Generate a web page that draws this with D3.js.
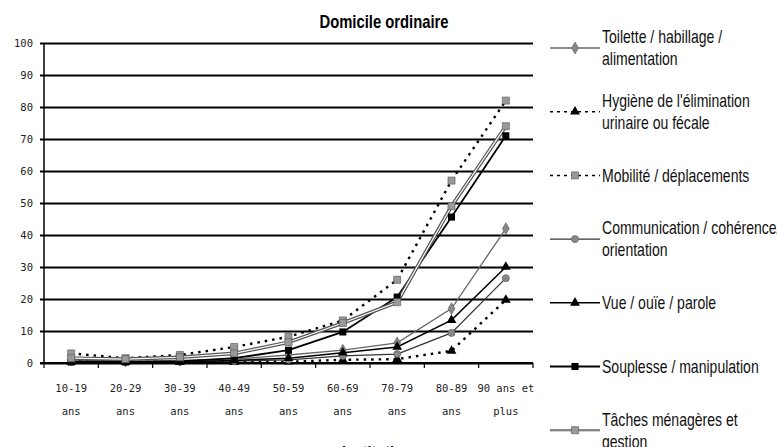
<!DOCTYPE html>
<html lang="fr">
  <head>
    <meta charset="utf-8">
    <title>Domicile ordinaire</title>
    <script src="https://cdnjs.cloudflare.com/ajax/libs/d3/7.8.5/d3.min.js"></script>
    <style>
      body { margin: 0; background: #fff; }
      svg { display: block; }
      .tick text { font-family: "DejaVu Sans Mono", monospace; font-size: 10.5px; fill: #222; }
    </style>
  </head>
  <body>
    <div id="chart"></div>
    <script>
      // data (percent)
      var categories = ["10-19 ans", "20-29 ans", "30-39 ans", "40-49 ans", "50-59 ans",
                        "60-69 ans", "70-79 ans", "80-89 ans", "90 ans et plus"];
      var tickLine1 = ["10-19", "20-29", "30-39", "40-49", "50-59", "60-69", "70-79", "80-89", "90 ans et"];
      var tickLine2 = ["ans", "ans", "ans", "ans", "ans", "ans", "ans", "ans", "plus"];
      var yTicks = [0, 10, 20, 30, 40, 50, 60, 70, 80, 90, 100];

      var toilette      = [1.0, 0.6, 0.8, 1.2, 2.5, 4.0, 6.3, 17.0, 42.0];
      var hygiene       = [0.4, 0.3, 0.3, 0.3, 0.4, 1.0, 1.2, 3.8, 19.7];
      var mobilite      = [3.0, 1.5, 2.5, 5.0, 8.2, 13.3, 26.0, 57.0, 82.0];
      var communication = [0.5, 0.4, 0.4, 0.6, 1.0, 2.2, 2.8, 9.4, 26.5];
      var vue           = [0.5, 0.4, 0.4, 0.8, 1.5, 3.2, 5.0, 13.4, 30.0];
      var souplesse     = [0.3, 0.3, 0.5, 1.5, 4.0, 9.7, 20.6, 45.6, 71.0];
      var taches        = [1.5, 1.2, 1.8, 3.0, 6.5, 12.5, 19.0, 49.0, 74.0];

      var seriesNames = [
        ["Toilette / habillage /", "alimentation"],
        ["Hygiène de l'élimination", "urinaire ou fécale"],
        ["Mobilité / déplacements"],
        ["Communication / cohérence/", "orientation"],
        ["Vue / ouïe / parole"],
        ["Souplesse / manipulation"],
        ["Tâches ménagères et", "gestion"]
      ];
      var seriesValues = [toilette, hygiene, mobilite, communication, vue, souplesse, taches];

      // drawing styles for each series, same order
      var styles = [
        {stroke: "#666", width: 1.3, dash: null, symbol: d3.symbolDiamond, size: 40, fill: "#888"},
        {stroke: "#000", width: 2.4, dash: "2.5,5", symbol: d3.symbolTriangle, size: 42, fill: "#000"},
        {stroke: "#000", width: 2.4, dash: "2.5,5", symbol: d3.symbolSquare, size: 50, fill: "#999"},
        {stroke: "#333", width: 1.2, dash: null, symbol: d3.symbolCircle, size: 40, fill: "#888"},
        {stroke: "#000", width: 1.5, dash: null, symbol: d3.symbolTriangle, size: 42, fill: "#000"},
        {stroke: "#000", width: 1.8, dash: null, symbol: d3.symbolSquare, size: 50, fill: "#000"},
        {stroke: "#555", width: 3.6, dash: null, double: true, symbol: d3.symbolSquare, size: 50, fill: "#999"}
      ];

      var W = 777, H = 447;
      var plot = {left: 44, right: 533, top: 43, bottom: 363};

      var svg = d3.select("#chart").append("svg")
          .attr("width", W)
          .attr("height", H);

      var x = d3.scaleBand()
          .domain(categories)
          .range([plot.left, plot.right]);

      var y = d3.scaleLinear()
          .domain([0, 100])
          .range([plot.bottom, plot.top]);

      // title
      svg.append("text")
          .attr("transform", "translate(384,28) scale(0.8,1)")
          .attr("text-anchor", "middle")
          .style("font-family", "'Liberation Sans', Arial, sans-serif")
          .style("font-weight", "bold")
          .style("font-size", "18.5px")
          .text("Domicile ordinaire");

      // y axis + gridlines
      var yAxis = svg.append("g")
          .attr("transform", "translate(" + plot.left + ",0)")
          .call(d3.axisLeft(y).tickValues(yTicks).tickSize(0).tickPadding(11));
      yAxis.select(".domain").remove();
      yAxis.selectAll(".tick line")
          .attr("x1", -4)
          .attr("x2", plot.right - plot.left)
          .attr("stroke", "#000")
          .attr("stroke-width", 1.8);

      svg.append("line")
          .attr("x1", plot.left).attr("x2", plot.left)
          .attr("y1", y(100)).attr("y2", y(0))
          .attr("stroke", "#000")
          .attr("stroke-width", 1.5);

      // x axis
      var xAxis = svg.append("g")
          .attr("transform", "translate(0," + plot.bottom + ")")
          .call(d3.axisBottom(x).tickSize(0).tickFormat(""));
      xAxis.select(".domain").remove();
      xAxis.selectAll(".tick text").remove();
      xAxis.selectAll(".tick").append("text")
          .attr("y", 29)
          .attr("text-anchor", "middle")
          .text(function(d, i) { return tickLine1[i]; });
      xAxis.selectAll(".tick").append("text")
          .attr("y", 52)
          .attr("text-anchor", "middle")
          .text(function(d, i) { return tickLine2[i]; });

      svg.append("line")
          .attr("x1", plot.left - 4).attr("x2", plot.right)
          .attr("y1", y(0)).attr("y2", y(0))
          .attr("stroke", "#000")
          .attr("stroke-width", 2);

      var bounds = categories.map(function(c) { return x(c); }).concat([x.range()[1]]);
      svg.selectAll(".xtick")
          .data(bounds)
          .enter().append("line")
            .attr("class", "xtick")
            .attr("x1", function(d) { return d; })
            .attr("x2", function(d) { return d; })
            .attr("y1", y(0))
            .attr("y2", y(0) + 5)
            .attr("stroke", "#000")
            .attr("stroke-width", 1.2);

      var cx = function(d, i) { return x(categories[i]) + x.bandwidth() / 2; };
      var line = d3.line()
          .x(cx)
          .y(function(d) { return y(d); });

      // lines
      seriesValues.forEach(function(vals, k) {
        var s = styles[k];
        svg.append("path")
            .datum(vals)
            .attr("d", line)
            .attr("fill", "none")
            .attr("stroke", s.stroke)
            .attr("stroke-width", s.width)
            .attr("stroke-dasharray", s.dash);
        if (s.double) {
          svg.append("path")
              .datum(vals)
              .attr("d", line)
              .attr("fill", "none")
              .attr("stroke", "#fff")
              .attr("stroke-width", 1.2);
        }
      });

      // markers
      seriesValues.forEach(function(vals, k) {
        var s = styles[k];
        svg.selectAll(".m" + k)
            .data(vals)
            .enter().append("path")
              .attr("class", "m" + k)
              .attr("d", d3.symbol().type(s.symbol).size(s.size))
              .attr("transform", function(d, i) { return "translate(" + cx(d, i) + "," + y(d) + ")"; })
              .attr("fill", s.fill)
              .attr("stroke", s.fill === "#000" ? "none" : "#555")
              .attr("stroke-width", 0.6);
      });

      // legend
      var legend = svg.append("g");
      seriesNames.forEach(function(lines, k) {
        var s = styles[k];
        var c = 48 + k * 63.7;
        var top = lines.length > 1 ? c - 11 : c;
        var g = legend.append("g");
        g.append("line")
            .attr("x1", 550).attr("x2", 600)
            .attr("y1", c).attr("y2", c)
            .attr("stroke", s.stroke)
            .attr("stroke-width", s.dash ? 1.5 : Math.min(s.width, 2))
            .attr("stroke-dasharray", s.dash ? "3,4" : null);
        if (s.double) {
          g.append("line")
              .attr("x1", 550).attr("x2", 600)
              .attr("y1", c).attr("y2", c)
              .attr("stroke", "#aaa")
              .attr("stroke-width", 0.8);
        }
        g.append("path")
            .attr("d", d3.symbol().type(s.symbol).size(s.size))
            .attr("transform", "translate(575," + c + ")")
            .attr("fill", s.fill)
            .attr("stroke", s.fill === "#000" ? "none" : "#555")
            .attr("stroke-width", 0.6);
        lines.forEach(function(t, j) {
          g.append("text")
              .attr("transform", "translate(602," + (top + j * 22) + ") scale(0.78,1)")
              .attr("dy", "0.35em")
              .style("font-family", "'Liberation Sans', Arial, sans-serif")
              .style("font-size", "18px")
              .style("fill", "#111")
              .text(t);
        });
      });

      // next chart's title, cut off by the bottom edge
      svg.append("text")
          .attr("transform", "translate(342,459) scale(0.8,1)")
          .style("font-family", "'Liberation Sans', Arial, sans-serif")
          .style("font-weight", "bold")
          .style("font-size", "18px")
          .text("Institution");
    </script>
  </body>
</html>
